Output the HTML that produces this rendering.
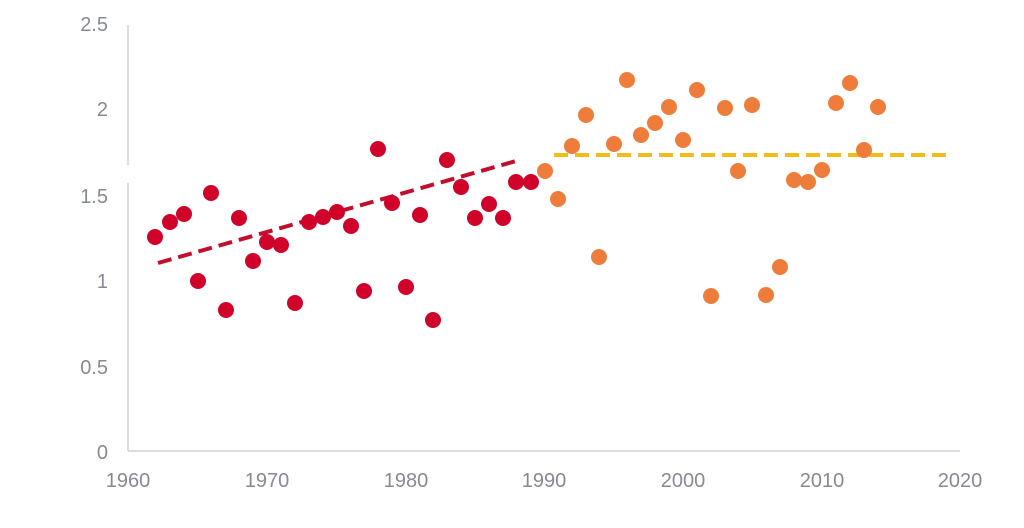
<!DOCTYPE html>
<html><head><meta charset="utf-8"><style>
html,body{margin:0;padding:0;background:#fff;width:1024px;height:528px;overflow:hidden}
text{font-family:"Liberation Sans","DejaVu Sans",sans-serif;font-size:20px;fill:#868a93}
</style></head><body>
<svg width="1024" height="528" viewBox="0 0 1024 528" xmlns="http://www.w3.org/2000/svg">
<line x1="128" y1="25" x2="128" y2="165" stroke="#d0d0d0" stroke-width="1.5"/>
<line x1="128" y1="183" x2="128" y2="451" stroke="#d0d0d0" stroke-width="1.5"/>
<line x1="128" y1="451" x2="960" y2="451" stroke="#d0d0d0" stroke-width="1.5"/>
<g text-anchor="end">
<text x="108" y="31">2.5</text>
<text x="108" y="116">2</text>
<text x="108" y="203">1.5</text>
<text x="108" y="288">1</text>
<text x="108" y="374">0.5</text>
<text x="108" y="459">0</text>
</g>
<g text-anchor="middle">
<text x="128" y="487">1960</text>
<text x="267" y="487">1970</text>
<text x="406" y="487">1980</text>
<text x="544" y="487">1990</text>
<text x="683" y="487">2000</text>
<text x="822" y="487">2010</text>
<text x="960" y="487">2020</text>
</g>
<line x1="158" y1="263" x2="516" y2="161" stroke="#c0102e" stroke-width="4" stroke-dasharray="14,7"/>
<line x1="554" y1="155" x2="946" y2="155" stroke="#f2bc1a" stroke-width="4" stroke-dasharray="14,7"/>
<g fill="#d0022a">
<circle cx="155" cy="237" r="8"/><circle cx="170" cy="222" r="8"/><circle cx="184" cy="214" r="8"/><circle cx="198" cy="281" r="8"/><circle cx="211" cy="193" r="8"/><circle cx="226" cy="310" r="8"/><circle cx="239" cy="218" r="8"/><circle cx="253" cy="261" r="8"/><circle cx="267" cy="242" r="8"/><circle cx="281" cy="245" r="8"/><circle cx="295" cy="303" r="8"/><circle cx="309" cy="222" r="8"/><circle cx="323" cy="217" r="8"/><circle cx="337" cy="212" r="8"/><circle cx="351" cy="226" r="8"/><circle cx="364" cy="291" r="8"/><circle cx="378" cy="149" r="8"/><circle cx="392" cy="203" r="8"/><circle cx="406" cy="287" r="8"/><circle cx="420" cy="215" r="8"/><circle cx="433" cy="320" r="8"/><circle cx="447" cy="160" r="8"/><circle cx="461" cy="187" r="8"/><circle cx="475" cy="218" r="8"/><circle cx="489" cy="204" r="8"/><circle cx="503" cy="218" r="8"/><circle cx="516" cy="182" r="8"/><circle cx="531" cy="182" r="8"/>
</g>
<g fill="#ee7d3c">
<circle cx="545" cy="171" r="8"/><circle cx="558" cy="199" r="8"/><circle cx="572" cy="146" r="8"/><circle cx="586" cy="115" r="8"/><circle cx="599" cy="257" r="8"/><circle cx="614" cy="144" r="8"/><circle cx="627" cy="80" r="8"/><circle cx="641" cy="135" r="8"/><circle cx="655" cy="123" r="8"/><circle cx="669" cy="107" r="8"/><circle cx="683" cy="140" r="8"/><circle cx="697" cy="90" r="8"/><circle cx="711" cy="296" r="8"/><circle cx="725" cy="108" r="8"/><circle cx="738" cy="171" r="8"/><circle cx="752" cy="105" r="8"/><circle cx="766" cy="295" r="8"/><circle cx="780" cy="267" r="8"/><circle cx="794" cy="180" r="8"/><circle cx="808" cy="182" r="8"/><circle cx="822" cy="170" r="8"/><circle cx="836" cy="103" r="8"/><circle cx="850" cy="83" r="8"/><circle cx="864" cy="150" r="8"/><circle cx="878" cy="107" r="8"/>
</g>
</svg>
</body></html>
